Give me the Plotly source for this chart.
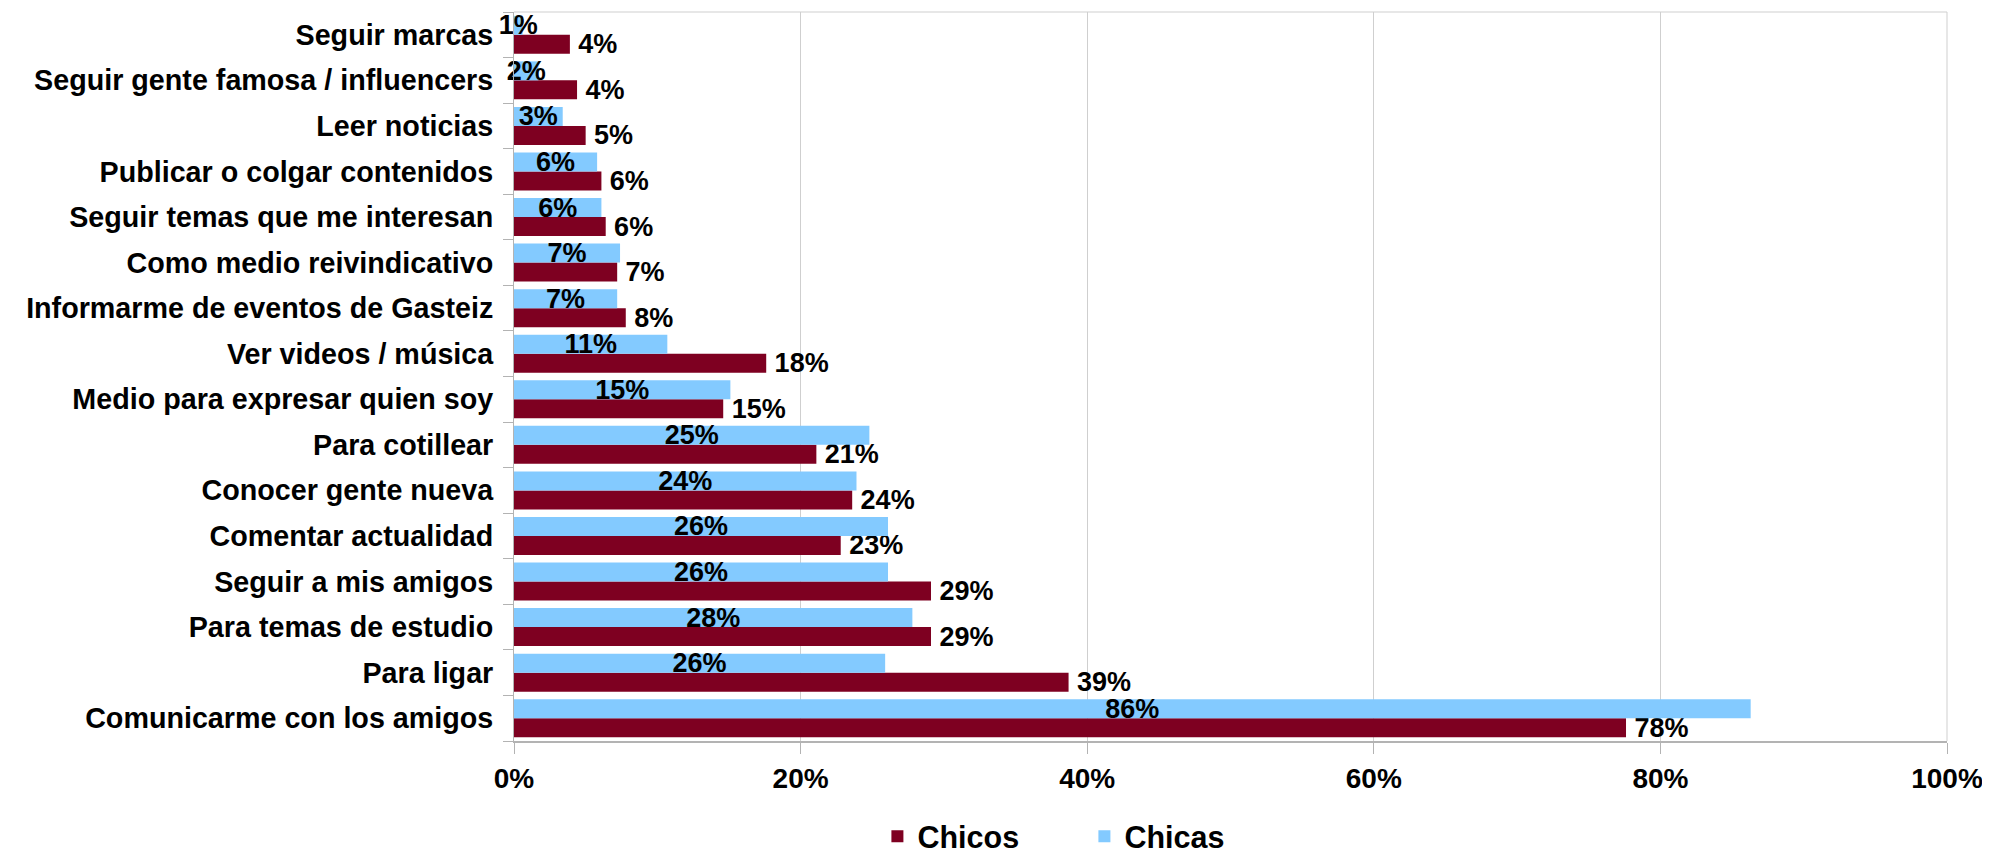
import plotly.graph_objects as go

categories = [
    "Comunicarme con los amigos",
    "Para ligar",
    "Para temas de estudio",
    "Seguir a mis amigos",
    "Comentar actualidad",
    "Conocer gente nueva",
    "Para cotillear",
    "Medio para expresar quien soy",
    "Ver videos / música",
    "Informarme de eventos de Gasteiz",
    "Como medio reivindicativo",
    "Seguir temas que me interesan",
    "Publicar o colgar contenidos",
    "Leer noticias",
    "Seguir gente famosa / influencers",
    "Seguir marcas",
]
chicos = [77.6, 38.7, 29.1, 29.1, 22.8, 23.6, 21.1, 14.6, 17.6, 7.8, 7.2, 6.4, 6.1, 5.0, 4.4, 3.9]
chicas = [86.3, 25.9, 27.8, 26.1, 26.1, 23.9, 24.8, 15.1, 10.7, 7.2, 7.4, 6.1, 5.8, 3.4, 1.7, 0.6]
x_ticks = [0, 20, 40, 60, 80, 100]
x_tick_labels = ["0%", "20%", "40%", "60%", "80%", "100%"]

FONT = "Liberation Sans, Arial, sans-serif"
RED = "#7e0021"
BLUE = "#83caff"
GRID = "#cfcfcf"
AXIS = "#b3b3b3"

fig = go.Figure()
fig.add_trace(go.Bar(
    y=categories, x=chicos, name="Chicos", orientation="h",
    marker=dict(color=RED, line=dict(width=0)),
    texttemplate="\u2009%{x:.0f}%", textposition="outside",
    textfont=dict(family=FONT, size=27, color="black", weight="bold"),
    constraintext="none", cliponaxis=False, hoverinfo="skip",
))
fig.add_trace(go.Bar(
    y=categories, x=chicas, name="Chicas", orientation="h",
    marker=dict(color=BLUE, line=dict(width=0)),
    texttemplate="%{x:.0f}%", textposition="inside", insidetextanchor="middle",
    textangle=0,
    textfont=dict(family=FONT, size=27, color="black", weight="bold"),
    constraintext="none", cliponaxis=False, hoverinfo="skip",
))

W, H = 1982, 853
fig.update_layout(
    width=W, height=H,
    margin=dict(l=505.5, r=42.7, t=3.7, b=120.3, autoexpand=False),
    paper_bgcolor="white", plot_bgcolor="white",
    barmode="group", bargap=0.167, bargroupgap=0,
    uniformtext=dict(minsize=27, mode="show"),
    font=dict(family=FONT, size=28, color="black", weight="bold"),
    showlegend=True,
    legend=dict(
        orientation="h", xref="paper", yref="paper",
        x=0.2536, xanchor="left", y=-0.131, yanchor="middle",
        font=dict(family=FONT, size=30.5, color="black", weight="bold"),
        traceorder="normal", entrywidth=162, itemwidth=30,
        bgcolor="rgba(0,0,0,0)",
    ),
    xaxis=dict(
        range=[0, 100], tickmode="array", tickvals=x_ticks, ticktext=x_tick_labels,
        showgrid=True, gridcolor=GRID, gridwidth=1,
        showline=True, linecolor=AXIS, linewidth=2,
        ticks="outside", ticklen=11, tickcolor=AXIS, tickwidth=1,
        zeroline=False, fixedrange=True,
        tickfont=dict(family=FONT, size=28, color="black", weight="bold"),
    ),
    yaxis=dict(
        categoryorder="array", categoryarray=categories,
        showgrid=False, showline=True, linecolor=AXIS, linewidth=1,
        ticks="outside", tickson="boundaries", ticklen=10, tickcolor=AXIS,
        ticklabelstandoff=14,
        tickfont=dict(family=FONT, size=28.7, color="black", weight="bold"),
        fixedrange=True,
    ),
    shapes=[
        dict(type="line", xref="paper", yref="paper", x0=0, x1=1, y0=1, y1=1,
             line=dict(color=GRID, width=1), layer="below"),
        dict(type="line", xref="paper", yref="paper", x0=1, x1=1, y0=0, y1=1,
             line=dict(color=GRID, width=1), layer="below"),
    ],
)

fig.write_html("out.html")
